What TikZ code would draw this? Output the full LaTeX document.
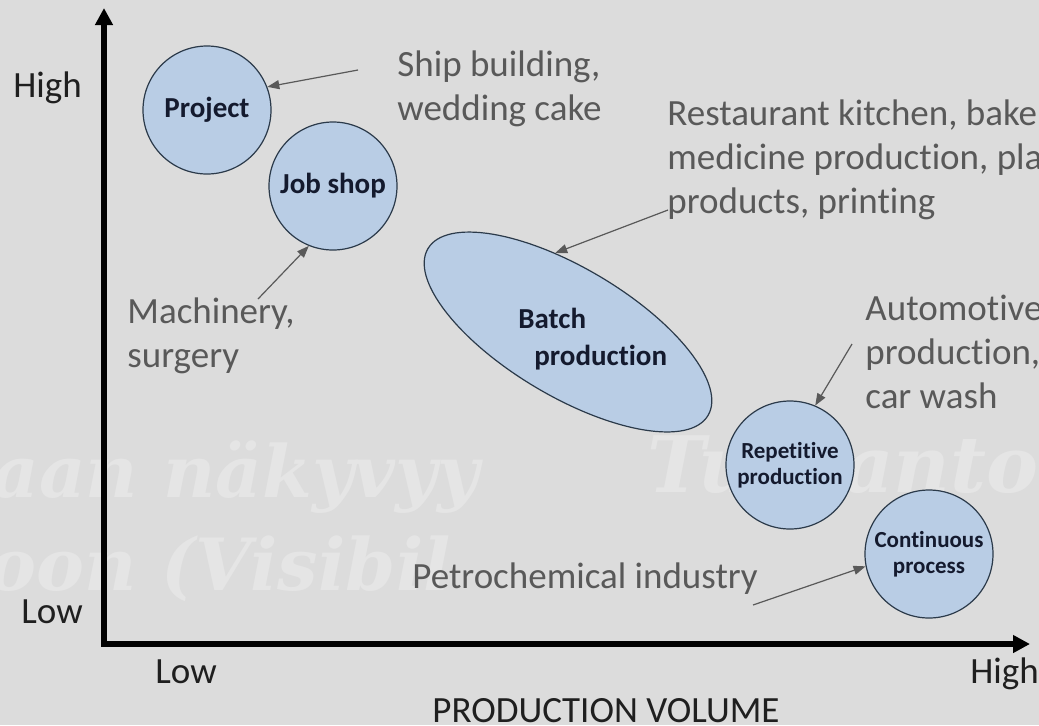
\documentclass[tikz,border=0pt]{standalone}
\usepackage{fontspec}
\setmainfont{Carlito}[Ligatures=NoCommon]
\newfontfamily\markfont{DejaVu Serif}
\usetikzlibrary{arrows.meta,shapes.geometric}
\definecolor{bggrey}{HTML}{DCDCDC}
\definecolor{markgrey}{HTML}{E5E5E5}
\definecolor{typefill}{HTML}{B9CDE5}
\definecolor{typeline}{HTML}{2B3A4A}
\definecolor{typetext}{HTML}{141A2E}
\definecolor{notegrey}{HTML}{595959}
\tikzset{
  typecircle/.style={circle, draw=typeline, line width=0.6pt, fill=typefill,
    minimum size=64pt, inner sep=0pt, align=center, text=typetext,
    font=\bfseries\fontsize{14.5}{16}\selectfont},
  smallcircle/.style={typecircle, font=\bfseries\fontsize{11.5}{13}\selectfont},
  batchshape/.style={ellipse, draw=typeline, line width=0.6pt, fill=typefill,
    minimum width=163pt, minimum height=64pt, inner sep=0pt},
  batchtext/.style={anchor=base west, inner sep=0pt, text=typetext,
    font=\bfseries\fontsize{14.5}{16}\selectfont},
  note/.style={anchor=base west, align=left, inner sep=0pt, text=notegrey,
    font=\fontsize{18.5}{22}\selectfont},
  axislabel/.style={anchor=base west, inner sep=0pt, text=black!88,
    font=\fontsize{18.5}{22}\selectfont},
  pointer/.style={draw=notegrey, line width=0.6pt, -{Triangle[length=6pt,width=4.5pt]}},
  axis/.style={line width=2.8pt, -{Triangle[length=8.5pt,width=8.5pt]}},
  watermark/.style={anchor=base west, inner sep=0pt, text=markgrey,
    font=\markfont\bfseries\itshape\fontsize{36}{40}\selectfont}
}
\begin{document}
\begin{tikzpicture}[x=0.5pt,y=-0.5pt]
  \useasboundingbox (0,0) rectangle (1039,725);
  \clip (0,0) rectangle (1039,725);
  \fill[bggrey] (0,0) rectangle (1039,725);
  \node[watermark] (markone) at (-8,497) {aan näkyvyy};
  \node[watermark] (marktwo) at (-12,590) {oon (Visibil};
  \node[watermark, font=\markfont\bfseries\itshape\fontsize{39}{42}\selectfont] (markthree) at (647,492) {Tuotanto};

  \coordinate (origin) at (104,644);
  \coordinate (ytop) at (104,8);
  \coordinate (xend) at (1030,644);
  \draw[axis, line cap=rect] (origin) -- (ytop);
  \draw[axis, line cap=rect] (origin) -- (xend);

  \node[axislabel] (yhigh) at (13,97) {High};
  \node[axislabel] (ylow) at (21,623) {Low};
  \node[axislabel] (xlow) at (155,683) {Low};
  \node[axislabel] (xhigh) at (970,683) {High};
  \node[axislabel] (xtitle) at (432,722) {PRODUCTION VOLUME};

  \node[typecircle] (project) at (207,110) {Project};
  \node[typecircle] (jobshop) at (333,186) {Job shop};
  \node[batchshape, rotate=-30.8] (batch) at (568,332) {};
  \node[batchtext] (batchone) at (518,328) {Batch};
  \node[batchtext] (batchtwo) at (534,365) {production};
  \node[smallcircle] (repetitive) at (790,465) {Repetitive\\production};
  \node[smallcircle] (continuous) at (929,554) {Continuous\\process};

  \node[note] (ship) at (397,120) {Ship building,\\wedding cake};
  \node[note] (restaurant) at (667,213) {Restaurant kitchen, bakery,\\medicine production, plastic\\products, printing};
  \node[note] (automotive) at (865,408) {Automotive\\production,\\car wash};
  \node[note] (machinery) at (127,367) {Machinery,\\surgery};
  \node[note] (petro) at (412,588) {Petrochemical industry};

  \coordinate (shiptail) at (358,70);
  \coordinate (machtail) at (258,299);
  \coordinate (resttail) at (668,210);
  \coordinate (autotail) at (852,344);
  \coordinate (petrotail) at (753,605);
  \draw[pointer] (shiptail) -- (project.21);
  \draw[pointer] (machtail) -- (jobshop.248);
  \draw[pointer] (resttail) -- (batch.130);
  \draw[pointer] (autotail) -- (repetitive.67);
  \draw[pointer] (petrotail) -- (continuous.191);
\end{tikzpicture}
\end{document}
